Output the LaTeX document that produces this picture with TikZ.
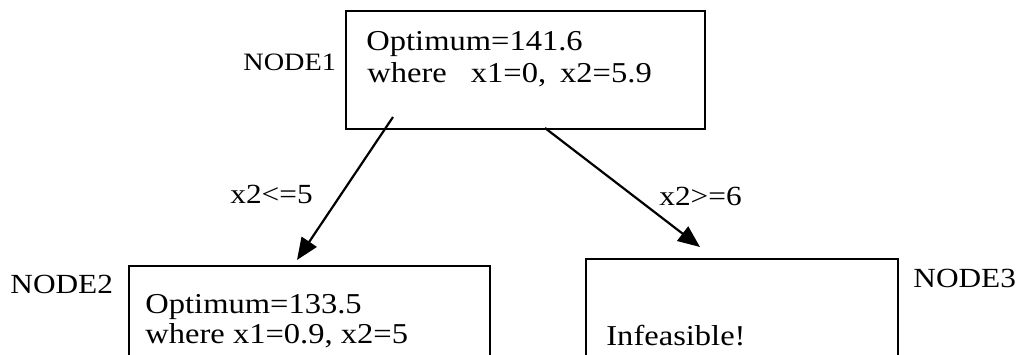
\documentclass[tikz,border=0pt]{standalone}
\usepackage{fontspec}
\setmainfont{Liberation Serif}[FakeStretch=1.13]
\usetikzlibrary{arrows.meta}
\begin{document}
\begin{tikzpicture}[x=0.5pt,y=-0.5pt,
  box/.style={draw,line width=1.1pt,anchor=north west,inner sep=0pt},
  txt/.style={anchor=base west,inner sep=0pt,font=\fontsize{14.4pt}{16pt}\selectfont},
  lbl/.style={anchor=base west,inner sep=0pt,font=\fontsize{13.85pt}{16pt}\selectfont},
  conn/.style={line width=1.1pt,-{Triangle[length=11pt,width=9pt]}}]
\useasboundingbox (0,0) rectangle (1021,354);
\clip (0,0) rectangle (1021,354);
% boxes
\node[box,minimum width=359*0.5pt,minimum height=118*0.5pt] (n1) at (345,10) {};
\node[box,minimum width=361*0.5pt,minimum height=120*0.5pt] (n2) at (128,265) {};
\node[box,minimum width=312*0.5pt,minimum height=120*0.5pt] (n3) at (585,258) {};
% texts in boxes
\node[txt] (t1a) at (366,50) {Optimum=141.6};
\node[txt] (t1b) at (367,82) {where\hspace{12pt}x1=0,\hspace{7pt}x2=5.9};
\node[txt] (t2a) at (145,313) {Optimum=133.5};
\node[txt] (t2b) at (145,343) {where x1=0.9, x2=5};
\node[txt] (t3a) at (606,345) {Infeasible!};
% node labels
\node[lbl,font=\fontsize{12.5pt}{14pt}\selectfont] (l1) at (243,70) {NODE1};
\node[lbl] (l2) at (10,293) {NODE2};
\node[lbl] (l3) at (913,287) {NODE3};
% connectors
\coordinate (s1) at (393,117);
\coordinate (e1) at (297,260);
\coordinate (s2) at (545,128);
\coordinate (e2) at (700,247);
\draw[conn] (s1) -- (e1);
\draw[conn] (s2) -- (e2);
\node[lbl] (c1) at (230,203) {x2<=5};
\node[lbl] (c2) at (659,205) {x2>=6};
\end{tikzpicture}
\end{document}
